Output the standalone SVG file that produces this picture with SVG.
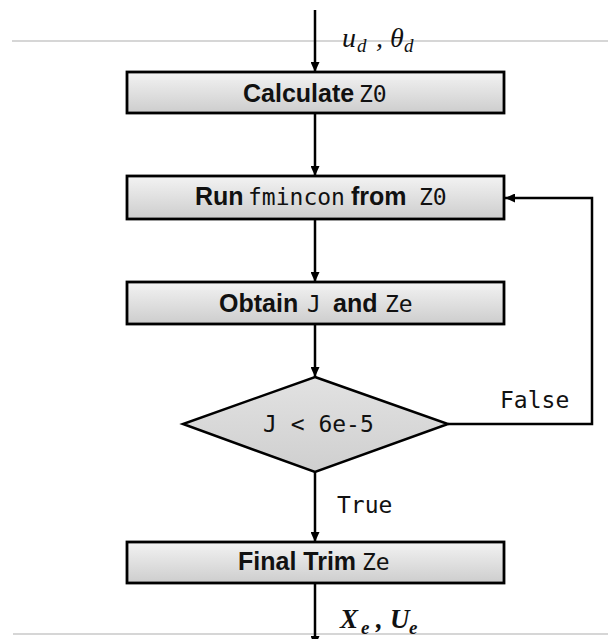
<svg xmlns="http://www.w3.org/2000/svg" width="608" height="639" viewBox="0 0 608 639">
<defs>
<linearGradient id="boxg" x1="0" y1="0" x2="0" y2="1">
<stop offset="0" stop-color="#f3f3f3"/>
<stop offset="1" stop-color="#cdcdcd"/>
</linearGradient>
<linearGradient id="diag" x1="0" y1="0" x2="0" y2="1">
<stop offset="0" stop-color="#e2e2e2"/>
<stop offset="1" stop-color="#cfcfcf"/>
</linearGradient>
<marker id="ah" markerUnits="userSpaceOnUse" markerWidth="11" markerHeight="9" refX="10" refY="4.5" orient="auto">
<path d="M0,0 L10,4.5 L0,9 Z" fill="#000"/>
</marker>
</defs>
<style>
.box{fill:url(#boxg);stroke:#000;stroke-width:2.8}
.dia{fill:url(#diag);stroke:#000;stroke-width:2.5}
.b{font-family:"Liberation Sans",Arial,sans-serif;font-weight:bold;font-size:25px;fill:#111}
.m{font-family:"DejaVu Sans Mono","Liberation Mono",monospace;font-size:23px;fill:#111}
.conn{fill:none;stroke:#000;stroke-width:2.5}
.guide{stroke:#c8c8c8;stroke-width:1.5}
.mi{font-family:"Liberation Serif","Times New Roman",serif;font-style:italic;fill:#111}
.mb{font-family:"Liberation Serif","Times New Roman",serif;font-style:italic;font-weight:bold;fill:#111}
</style>
<line class="guide" x1="12" y1="41" x2="608" y2="41"/>
<line class="guide" x1="13" y1="634" x2="608" y2="634"/>
<g id="connectors">
<line class="conn" x1="315" y1="10" x2="315" y2="72" marker-end="url(#ah)"/>
<line class="conn" x1="315" y1="113" x2="315" y2="176" marker-end="url(#ah)"/>
<line class="conn" x1="315" y1="219" x2="315" y2="282" marker-end="url(#ah)"/>
<line class="conn" x1="315" y1="324" x2="315" y2="377" marker-end="url(#ah)"/>
<line class="conn" x1="315" y1="472" x2="315" y2="542" marker-end="url(#ah)"/>
<line class="conn" x1="315" y1="583" x2="315" y2="646" marker-end="url(#ah)"/>
<polyline class="conn" points="448,424 592,424 592,198 505,198" marker-end="url(#ah)"/>
<text class="m" x="500" y="408">False</text>
<text class="m" x="337" y="513">True</text>
<text class="mi" y="47"><tspan x="342" font-size="28">u</tspan><tspan x="357" y="52" font-size="19">d</tspan><tspan x="376" y="47" font-size="28">,</tspan><tspan x="390" font-size="28">θ</tspan><tspan x="404" y="52" font-size="19">d</tspan></text>
<text class="mb" y="628"><tspan x="340" font-size="27">X</tspan><tspan x="361" y="634" font-size="19">e</tspan><tspan x="376" y="628" font-size="27">,</tspan><tspan x="390" font-size="27">U</tspan><tspan x="409" y="634" font-size="19">e</tspan></text>
</g>
<g id="calc">
<rect class="box" x="127" y="72" width="377" height="41"/>
<text y="102"><tspan class="b" x="243">Calculate</tspan><tspan class="m" x="359">Z0</tspan></text>
</g>
<g id="run">
<rect class="box" x="127" y="176" width="377" height="43"/>
<text y="205"><tspan class="b" x="195">Run</tspan><tspan class="m" x="248">fmincon</tspan><tspan class="b" x="351">from</tspan><tspan class="m" x="419">Z0</tspan></text>
</g>
<g id="obtain">
<rect class="box" x="127" y="282" width="377" height="42"/>
<text y="312"><tspan class="b" x="219">Obtain</tspan><tspan class="m" x="307">J</tspan><tspan class="b" x="333">and</tspan><tspan class="m" x="385">Ze</tspan></text>
</g>
<g id="decision">
<polygon class="dia" points="315,377 448,424 315,472 183,424"/>
<text class="m" x="263" y="432">J &lt; 6e-5</text>
</g>
<g id="final">
<rect class="box" x="127" y="542" width="377" height="41"/>
<text y="570"><tspan class="b" x="238">Final Trim</tspan><tspan class="m" x="362">Ze</tspan></text>
</g>
</svg>
